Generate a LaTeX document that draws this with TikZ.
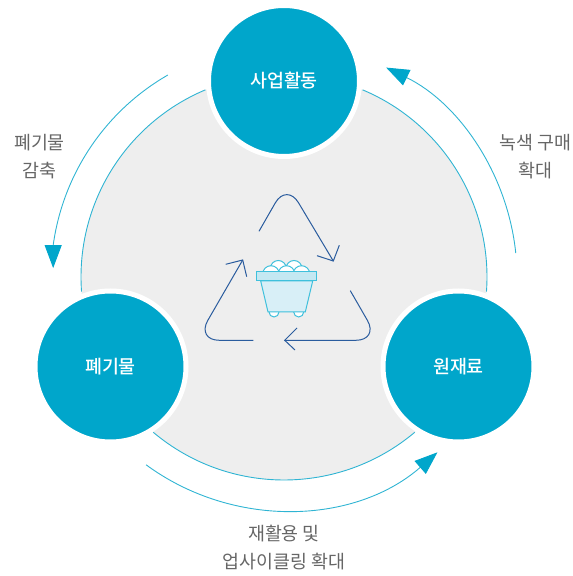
\documentclass[tikz,border=0pt]{standalone}
\usepackage{fontspec}
\setmainfont{Noto Sans CJK KR}
\newfontfamily\hubfont{Noto Sans CJK KR Medium}
\usetikzlibrary{arrows.meta}
\definecolor{teal}{HTML}{00A6CB}
\definecolor{arcc}{HTML}{2FB4D3}
\definecolor{disc}{HTML}{EEEEEE}
\definecolor{navy}{HTML}{2A5C9E}
\definecolor{labelc}{HTML}{666666}
\definecolor{cartline}{HTML}{3FC0DC}
\definecolor{cartbody}{HTML}{D8EFF7}
\definecolor{cartrim}{HTML}{C4E8F2}
\tikzset{
  hub/.style={circle,fill=teal,draw=white,line width=5pt,minimum size=151pt,inner sep=0pt,text=white,font=\hubfont\fontsize{18.4}{20}\selectfont},
  lab/.style={text=labelc,align=center,inner sep=0pt,font=\fontsize{18.4}{28}\selectfont},
  rim/.style={draw=arcc,line width=0.9pt},
  flow/.style={draw=arcc,line width=0.9pt,-{Triangle[length=23pt,width=17pt,fill=teal,color=teal]}},
  cyc/.style={draw=navy,line width=1pt,rounded corners=23pt},
  barb/.style={draw=navy,line width=1pt,miter limit=10},
  cart/.style={draw=cartline,line width=1pt},
}
\begin{document}
\begin{tikzpicture}[x=1pt,y=1pt]
\useasboundingbox (0,0) rectangle (573,576);
\coordinate (c) at (284,299);
\fill[disc] (c) circle[radius=203pt];
% inner rim arcs
\coordinate (ra) at ([shift={(67.2:203pt)}]c);
\coordinate (rb) at ([shift={(112.8:203pt)}]c);
\coordinate (rc) at ([shift={(229.9:203pt)}]c);
\draw[rim] (ra) arc[start angle=67.2,end angle=-4.15,radius=203pt];
\draw[rim] (rb) arc[start angle=112.8,end angle=184.15,radius=203pt];
\draw[rim] (rc) arc[start angle=229.9,end angle=310.1,radius=203pt];
% hubs
\node[hub] (biz) at (284,495) {사업활동};
\node[hub] (waste) at (110.5,209.5) {폐기물};
\node[hub] (raw) at (458.5,209.5) {원재료};
% outer flows
\coordinate (fa) at ([shift={(5.9:233pt)}]c);
\coordinate (fb) at ([shift={(119.9:233pt)}]c);
\coordinate (fc) at ([shift={(233.7:233pt)}]c);
\draw[flow] (fa) arc[start angle=5.9,end angle=64,radius=233pt];
\draw[flow] (fb) arc[start angle=119.9,end angle=172.2,radius=233pt] -- ++(0,-22.7);
\draw[flow] (fc) arc[start angle=233.7,end angle=311.2,radius=233pt];
% labels
\node[lab] (l1) at (535.5,419) {녹색 구매\\확대};
\node[lab] (l2) at (39.5,419.5) {폐기물\\감축};
\node[lab] (l3) at (284,28.5) {재활용 및\\업사이클링 확대};
% recycle arrows
\coordinate (a1) at (259,344.7);
\coordinate (v1) at (286.7,393);
\coordinate (t1) at (333.3,315);
\coordinate (a2) at (350.3,285.3);
\coordinate (v2) at (378.9,235.7);
\coordinate (t2) at (284.7,235.7);
\coordinate (a3) at (253.3,235.7);
\coordinate (v3) at (196.3,235.7);
\coordinate (t3) at (242.7,316);
\draw[cyc] (a1) -- (v1) -- (t1);
\draw[barb] (317,320.3) -- (t1) -- (339.3,330.7);
\draw[cyc] (a2) -- (v2) -- (t2);
\draw[barb] (297,248) -- (t2) -- (295,226);
\draw[cyc] (a3) -- (v3) -- (t3);
\draw[barb] (225.7,311.7) -- (t3) -- (246.7,299.3);
% cart
\foreach \x in {278.3,294}{\draw[cart,fill=white] (\x,307.5) circle[radius=8pt];}
\foreach \x in {271,286.5,301.5}{\draw[cart,fill=white] (\x,302) circle[radius=8.3pt];}
\draw[cart,fill=white] (269,264) arc[start angle=180,end angle=360,radius=5pt];
\draw[cart,fill=white] (293.7,264) arc[start angle=180,end angle=360,radius=5pt];
\draw[cart,fill=cartbody] (260.7,295) -- (312.7,295) -- (305.3,264) -- (268,264) -- cycle;
\draw[cart,fill=cartrim] (256.3,295) rectangle (316.7,304.7);
\end{tikzpicture}
\end{document}
